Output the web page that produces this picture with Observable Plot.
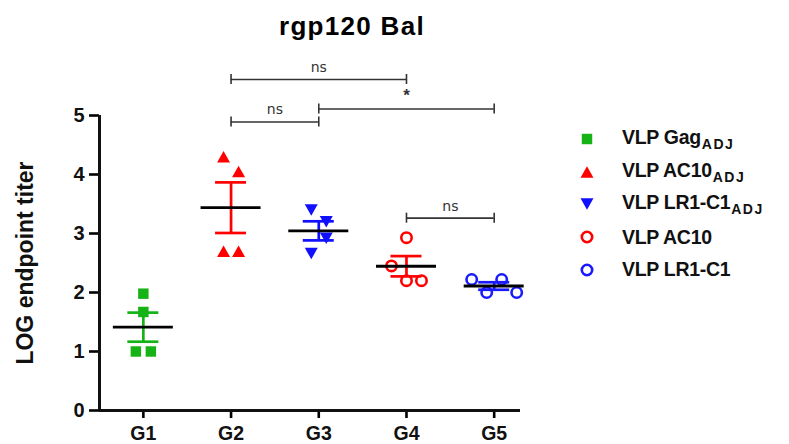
<!DOCTYPE html>
<html><head><meta charset="utf-8">
<script src="https://cdn.jsdelivr.net/npm/d3@7"></script>
<script src="https://cdn.jsdelivr.net/npm/@observablehq/plot@0.6"></script>
<style>
body{margin:0;background:#fff;font-family:"Liberation Sans",Arial,sans-serif;}
#wrap{position:relative;width:789px;height:444px;overflow:hidden;}
#title{position:absolute;left:152px;top:13px;width:400px;text-align:center;font-size:26px;line-height:26px;font-weight:bold;letter-spacing:1.3px;color:#000;}
#legend{position:absolute;left:575px;top:0;}
.row{position:absolute;left:0;height:30px;display:flex;align-items:center;white-space:nowrap;}
.row svg{width:24px;height:24px;margin-right:23px;}
.row span.t{font-size:19.5px;font-weight:bold;color:#111;letter-spacing:-0.3px;}
.row sub{font-size:14px;letter-spacing:1.5px;vertical-align:-5px;margin-left:1px;}
</style></head><body>
<div id="wrap"><div id="title">rgp120 Bal</div><div id="legend"></div></div>
<script>
// ---- data ----
const groups = ["G1", "G2", "G3", "G4", "G5"];
const seriesNames = ["VLP Gag", "VLP AC10", "VLP LR1-C1", "VLP AC10", "VLP LR1-C1"];
const seriesSub = ["ADJ", "ADJ", "ADJ", "", ""];
const g1 = [1.98, 1.67, 1.0, 1.0];
const g2 = [4.3, 4.05, 2.7, 2.7];
const g3 = [3.4, 3.2, 2.66, 2.92];
const g4 = [2.93, 2.45, 2.2, 2.2];
const g5 = [2.22, 2.0, 2.22, 2.0];
const yTicks = [0, 1, 2, 3, 4, 5];
const bracketFrom = ["G2", "G2", "G3", "G4"];
const bracketTo = ["G4", "G3", "G5", "G5"];
const bracketLabels = ["ns", "ns", "*", "ns"];
const bracketLevels = [5.61, 4.89, 5.11, 3.26];

// ---- styles ----
const seriesColors = ["#16b316", "#ff0000", "#1010ff", "#ff0000", "#1a1aff"];
const seriesShapes = ["square", "triUp", "triDown", "circle", "circle"];

const W = 789, H = 444, ML = 99, MR = 269, MT = 115, MB = 34;
const xDomain = [0.5, 5.3];
const pxPerUnit = (W - ML - MR) / (xDomain[1] - xDomain[0]);
const u = px => px / pxPerUnit;

function triSymbol(up) {
  return {draw(ctx, size) {
    const r = Math.sqrt(size / Math.PI), hw = r * 1.3, hh = r * 1.15;
    if (up) { ctx.moveTo(0, -hh); ctx.lineTo(hw, hh); ctx.lineTo(-hw, hh); }
    else { ctx.moveTo(0, hh); ctx.lineTo(-hw, -hh); ctx.lineTo(hw, -hh); }
    ctx.closePath();
  }};
}
const symbolFor = {square: "square", triUp: triSymbol(true), triDown: triSymbol(false), circle: "circle"};
const rFor = {square: 5.9, triUp: 5, triDown: 5, circle: 5.2};

// spread points of close values side by side (scatter column)
function offsets(vals, thr = 0.27) {
  const idx = d3.range(vals.length).sort((i, j) => vals[j] - vals[i]);
  const rows = []; let cur = [idx[0]];
  for (let k = 1; k < idx.length; k++) {
    if (vals[cur[cur.length - 1]] - vals[idx[k]] <= thr) cur.push(idx[k]);
    else { rows.push(cur); cur = [idx[k]]; }
  }
  rows.push(cur);
  const off = new Array(vals.length);
  for (const row of rows) { row.sort((a, b) => a - b); row.forEach((i, k) => off[i] = k - (row.length - 1) / 2); }
  return off;
}

const values = [g1, g2, g3, g4, g5];
const points = values.flatMap((vals, gi) => {
  const off = offsets(vals);
  return vals.map((v, i) => ({gi, x: gi + 1 + off[i] * u(15), y: v}));
});
const stats = values.map((vals, gi) => {
  const m = d3.mean(vals), se = d3.deviation(vals) / Math.sqrt(vals.length);
  return {gi, x: gi + 1, mean: m, lo: m - se, hi: m + se, color: seriesColors[gi]};
});
const brackets = bracketFrom.map((f, i) => ({
  x1: groups.indexOf(f) + 1, x2: groups.indexOf(bracketTo[i]) + 1,
  label: bracketLabels[i], level: bracketLevels[i]
}));
const bracketEnds = brackets.flatMap(b => [{x: b.x1, level: b.level}, {x: b.x2, level: b.level}]);

const dotMarks = groups.map((g, gi) => {
  const shape = seriesShapes[gi];
  const filled = shape !== "circle";
  return Plot.dot(points.filter(p => p.gi === gi), {
    x: "x", y: "y", symbol: symbolFor[shape], r: rFor[shape],
    fill: filled ? seriesColors[gi] : "none",
    stroke: filled ? "none" : seriesColors[gi], strokeWidth: 2.6
  });
});

const chart = Plot.plot({
  width: W, height: H,
  marginLeft: ML, marginRight: MR, marginTop: MT, marginBottom: MB,
  style: {fontFamily: "'Liberation Sans', Arial, sans-serif", background: "transparent", overflow: "visible"},
  x: {type: "linear", domain: xDomain},
  y: {domain: [0, 5]},
  marks: [
    // axes
    Plot.axisY({ticks: yTicks, tickFormat: d3.format("d"), tickSize: 10, tickPadding: 5, fontSize: 20, fontWeight: "bold", strokeWidth: 2.6, label: null, fill: "#111"}),
    Plot.axisX({ticks: [1, 2, 3, 4, 5], tickFormat: d => groups[d - 1], tickSize: 8, tickPadding: 8, fontSize: 19.5, fontWeight: "bold", strokeWidth: 2.6, label: null, fill: "#111"}),
    Plot.ruleX([xDomain[0]], {y1: 0, y2: 5, strokeWidth: 3, stroke: "#111"}),
    Plot.ruleY([0], {x1: xDomain[0], x2: xDomain[1], strokeWidth: 3, stroke: "#111"}),
    Plot.text(["LOG endpoint titer"], {frameAnchor: "left", textAnchor: "middle", rotate: -90, dx: -74, fontSize: 23, fontWeight: "bold", fill: "#111"}),
    // SEM bars
    Plot.ruleX(stats, {x: "x", y1: "lo", y2: "hi", stroke: "color", strokeWidth: 2.7}),
    Plot.ruleY(stats, {y: "hi", x1: d => d.x - u(15.5), x2: d => d.x + u(15.5), stroke: "color", strokeWidth: 2.7}),
    Plot.ruleY(stats, {y: "lo", x1: d => d.x - u(15.5), x2: d => d.x + u(15.5), stroke: "color", strokeWidth: 2.7}),
    // points
    ...dotMarks,
    // means
    Plot.ruleY(stats, {y: "mean", x1: d => d.x - u(30), x2: d => d.x + u(30), stroke: "#000", strokeWidth: 2.8}),
    // significance brackets
    Plot.ruleY(brackets, {y: "level", x1: "x1", x2: "x2", stroke: "#333", strokeWidth: 1.6}),
    Plot.ruleX(bracketEnds, {x: "x", y1: d => d.level - 0.085, y2: d => d.level + 0.085, stroke: "#333", strokeWidth: 1.6}),
    Plot.text(brackets.filter(b => b.label !== "*"), {x: d => (d.x1 + d.x2) / 2, y: "level", text: "label", dy: -12, fontSize: 14, fontFamily: "'DejaVu Sans', sans-serif", fill: "#333"}),
    Plot.text(brackets.filter(b => b.label === "*"), {x: d => (d.x1 + d.x2) / 2, y: "level", text: "label", dy: -13, fontSize: 17, fontWeight: "bold", fill: "#333"})
  ]
});
document.getElementById("wrap").appendChild(chart);
chart.style.position = "absolute"; chart.style.left = "0"; chart.style.top = "0";
document.getElementById("title").style.zIndex = 2;

// legend (HTML, with subscripts)
const legend = document.getElementById("legend");
legend.style.zIndex = 2;
seriesNames.forEach((name, i) => {
  const shape = seriesShapes[i];
  const p = d3.path();
  const sym = symbolFor[shape];
  const r = rFor[shape];
  let svg;
  if (shape === "circle") {
    svg = `<svg viewBox="-12 -12 24 24"><circle r="${r}" fill="none" stroke="${seriesColors[i]}" stroke-width="2.6"/></svg>`;
  } else {
    const s = shape === "square" ? d3.symbolSquare : sym;
    s.draw(p, r * r * Math.PI);
    svg = `<svg viewBox="-12 -12 24 24"><path d="${p.toString()}" fill="${seriesColors[i]}"/></svg>`;
  }
  const row = document.createElement("div");
  row.className = "row";
  row.style.top = (139 + i * 32.7 - 15) + "px";
  row.innerHTML = svg + `<span class="t">${name}${seriesSub[i] ? `<sub>${seriesSub[i]}</sub>` : ""}</span>`;
  legend.appendChild(row);
});
</script>
</body></html>
